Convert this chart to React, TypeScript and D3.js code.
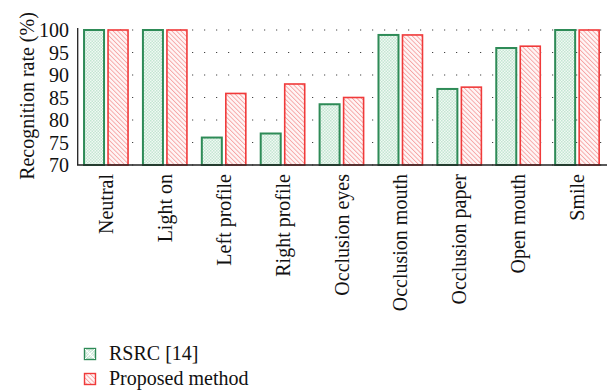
import React from "react";
import * as d3 from "d3";

const categories = [
  "Neutral",
  "Light on",
  "Left profile",
  "Right profile",
  "Occlusion eyes",
  "Occlusion mouth",
  "Occlusion paper",
  "Open mouth",
  "Smile",
];
const seriesNames = ["RSRC [14]", "Proposed method"];
const rsrcValues = [100, 100, 76.1, 77.0, 83.5, 98.9, 86.9, 96.0, 100];
const proposedValues = [100, 100, 85.9, 88.0, 85.0, 98.9, 87.3, 96.4, 100];
const yTicks = [70, 75, 80, 85, 90, 95, 100];

const width = 612;
const height = 392;
const font = "'Liberation Serif', 'DejaVu Serif', serif";

const colors = ["#2e8b57", "#f03a3a"];
const fills = ["url(#checkGreen)", "url(#hatchRed)"];

export default function App() {
  const x0 = d3.scaleBand<string>().domain(categories).range([76.6, 606.6]);
  const x1 = d3
    .scaleBand<string>()
    .domain(seriesNames)
    .range([0, 44])
    .paddingInner(1 / 6);
  const y = d3.scaleLinear().domain([70, 100]).range([165, 30]);

  const data = [rsrcValues, proposedValues];
  const offset = (x0.bandwidth() - 44) / 2;

  return (
    <svg
      width={width}
      height={height}
      style={{ position: "absolute", left: 0, top: 0 }}
      fontFamily={font}
    >
      <defs>
        <pattern id="checkGreen" width="3" height="3" patternUnits="userSpaceOnUse">
          <rect width="3" height="3" fill="#f1f9f4" />
          <rect width="1.5" height="1.5" fill="#c4e6d2" />
          <rect x="1.5" y="1.5" width="1.5" height="1.5" fill="#c4e6d2" />
        </pattern>
        <pattern
          id="hatchRed"
          width="3.2"
          height="3.2"
          patternUnits="userSpaceOnUse"
          patternTransform="rotate(-45)"
        >
          <rect width="3.2" height="3.2" fill="#fff6f6" />
          <line x1="0" y1="0" x2="0" y2="3.2" stroke="#f6a3a3" strokeWidth="1.8" />
        </pattern>
      </defs>

      {/* dotted grid */}
      {yTicks.map((t) => (
        <line
          key={"g" + t}
          x1={78}
          x2={607}
          y1={y(t)}
          y2={y(t)}
          stroke="#444"
          strokeWidth={1.2}
          strokeDasharray="1.2 10.8"
          strokeDashoffset={-6}
        />
      ))}

      {categories.map((c, i) =>
        seriesNames.map((s, j) => {
          const v = data[j][i];
          const bx = (x0(c) as number) + offset + (x1(s) as number);
          return (
            <rect
              key={c + s}
              x={bx}
              y={y(v)}
              width={x1.bandwidth()}
              height={y(70) - y(v)}
              fill={fills[j]}
              stroke={colors[j]}
              strokeWidth={j === 0 ? 2 : 1.6}
            />
          );
        })
      )}

      {/* axes */}
      <line x1={77.7} x2={77.7} y1={28} y2={165} stroke="#222" strokeWidth={1.3} />
      <line x1={77} x2={607} y1={165} y2={165} stroke="#222" strokeWidth={1.3} />

      {yTicks.map((t) => (
        <text
          key={"t" + t}
          x={69}
          y={y(t)}
          dy="0.35em"
          textAnchor="end"
          fontSize={20}
          fill="#111"
        >
          {t}
        </text>
      ))}

      <text
        transform="translate(34,96) rotate(-90)"
        textAnchor="middle"
        fontSize={20}
        fill="#111"
      >
        Recognition rate (%)
      </text>

      {categories.map((c) => {
        const cx = (x0(c) as number) + x0.bandwidth() / 2;
        return (
          <text
            key={"x" + c}
            transform={`translate(${cx + 7},174) rotate(-90)`}
            textAnchor="end"
            fontSize={20}
            fill="#111"
          >
            {c}
          </text>
        );
      })}

      {/* legend */}
      {seriesNames.map((s, j) => (
        <g key={"l" + s} transform={`translate(84,${348 + j * 25})`}>
          <rect
            x={0.5}
            y={0.5}
            width={11}
            height={11}
            fill={fills[j]}
            stroke={colors[j]}
            strokeWidth={1.4}
          />
          {j === 0 && (
            <path
              d="M1,1 L6,6 L11,1 M1,11 L6,6 L11,11"
              stroke="#fff"
              strokeWidth={1}
              fill="none"
            />
          )}
          <text x={25} y={12} fontSize={20} fill="#111">
            {s}
          </text>
        </g>
      ))}
    </svg>
  );
}
